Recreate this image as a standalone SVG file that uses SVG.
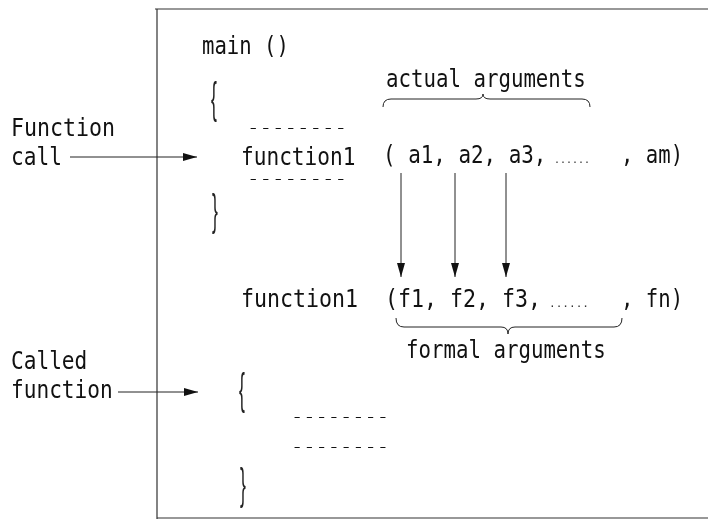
<svg xmlns="http://www.w3.org/2000/svg" width="708" height="521" viewBox="0 0 708 521">
<style>
  text { font-family: "DejaVu Sans Mono", "Liberation Mono", monospace; font-size: 24px; fill: #111; filter: url(#gray); }
  .brace { font-family: "Liberation Sans", "DejaVu Sans", sans-serif; font-size: 44px; fill: #222; }
  .dots { font-size: 11px; fill: #333; }
  .dash { font-size: 12px; }
  .ln { stroke: #222; stroke-width: 1; fill: none; }
  .bx { stroke: #333; stroke-width: 1.2; fill: none; }
</style>
<defs>
  <filter id="gray" x="-20%" y="-20%" width="140%" height="140%">
    <feOffset dx="0" dy="0"/>
  </filter>
  <marker id="ah" viewBox="0 0 14 8" refX="14" refY="4" markerWidth="14" markerHeight="8" markerUnits="userSpaceOnUse" orient="auto">
    <path d="M0,0 L14,4 L0,8 Z" fill="#111"/>
  </marker>
</defs>
<rect width="708" height="521" fill="#fff"/>

<g id="frame">
  <path class="bx" d="M155,9 H708 M157,9 V519 M157,518 H708"/>
</g>

<g id="labels">
  <text transform="translate(11,136) scale(0.9,1)">Function</text>
  <text transform="translate(11,165) scale(0.88,1)">call</text>
  <text transform="translate(11,369) scale(0.88,1)">Called</text>
  <text transform="translate(11,398) scale(0.88,1)">function</text>
</g>

<g id="main">
  <text transform="translate(202,54) scale(0.86,1)">main ()</text>
  <text class="brace" transform="translate(211,113) scale(0.4,1)">{</text>
  <text class="dash" x="247" y="132" textLength="100" lengthAdjust="spacingAndGlyphs">--------</text>
  <text transform="translate(241,165) scale(0.88,1)">function1</text>
  <text class="dash" x="247" y="183" textLength="100" lengthAdjust="spacingAndGlyphs">--------</text>
  <text class="brace" transform="translate(212,225) scale(0.4,1)">}</text>
</g>

<g id="actual">
  <text transform="translate(386,87) scale(0.865,1)">actual arguments</text>
  <path class="ln" d="M383,107 Q383,99 391,99 L476,99 Q483,99 483,94 Q483,99 490,99 L582,99 Q590,99 590,107"/>
  <text transform="translate(383,163) scale(0.87,1)">( a1, a2, a3,</text>
  <text class="dots" x="554" y="163" textLength="36" lengthAdjust="spacingAndGlyphs">......</text>
  <text transform="translate(621,163) scale(0.86,1)">, am)</text>
</g>

<g id="called">
  <text transform="translate(241,307) scale(0.9,1)">function1</text>
  <text transform="translate(385,307) scale(0.9,1)">(f1, f2, f3,</text>
  <text class="dots" x="549" y="307" textLength="40" lengthAdjust="spacingAndGlyphs">......</text>
  <text transform="translate(621,307) scale(0.86,1)">, fn)</text>
  <path class="ln" d="M396,318 Q396,327 404,327 L501,327 Q508,327 508,334 Q508,327 515,327 L614,327 Q622,327 622,318"/>
  <text transform="translate(406,358) scale(0.865,1)">formal arguments</text>
  <text class="brace" transform="translate(239,404) scale(0.4,1)">{</text>
  <text class="dash" x="291" y="421" textLength="98" lengthAdjust="spacingAndGlyphs">--------</text>
  <text class="dash" x="291" y="451" textLength="98" lengthAdjust="spacingAndGlyphs">--------</text>
  <text class="brace" transform="translate(240,499) scale(0.4,1)">}</text>
</g>

<g id="connectors">
  <line class="ln" x1="70" y1="157" x2="197" y2="157" marker-end="url(#ah)"/>
  <line class="ln" x1="118" y1="392" x2="198" y2="392" marker-end="url(#ah)"/>
  <line class="ln" x1="401" y1="173" x2="401" y2="277" marker-end="url(#ah)"/>
  <line class="ln" x1="455" y1="173" x2="455" y2="277" marker-end="url(#ah)"/>
  <line class="ln" x1="506" y1="173" x2="506" y2="277" marker-end="url(#ah)"/>
</g>
</svg>
